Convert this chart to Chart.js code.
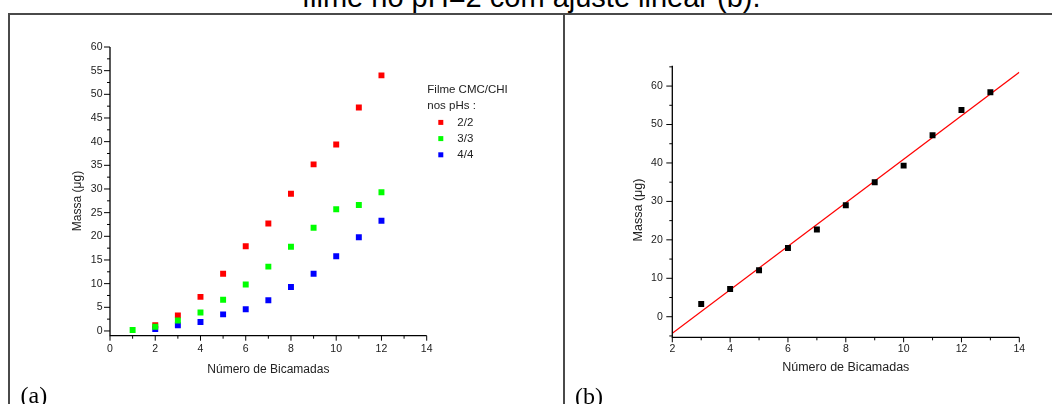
<!DOCTYPE html>
<html>
<head>
<meta charset="utf-8">
<script src="https://cdn.jsdelivr.net/npm/chart.js@4.4.1/dist/chart.umd.min.js"></script>
<style>
  html, body { margin: 0; padding: 0; background: #fff; }
  #pagina { position: relative; width: 1052px; height: 404px; overflow: hidden; font-family: "Liberation Sans", Arial, sans-serif; }
  .linha { position: absolute; background: #4a4a4a; }
  #titulo { position: absolute; left: 302px; top: -17.5px; font-size: 29px; line-height: 29px; white-space: nowrap; color: #000; }
  .rotulo { position: absolute; font-family: "Liberation Serif", "Times New Roman", serif; font-size: 24px; line-height: 24px; color: #000; }
  canvas { position: absolute; top: 0; }
</style>
</head>
<body>
<div id="pagina">
  <div id="titulo">filme no pH=2 com ajuste linear (b).</div>
  <div class="linha" style="left:8px; top:12.5px; width:1044px; height:2px;"></div>
  <div class="linha" style="left:7.5px; top:12.5px; width:2px; height:392px;"></div>
  <div class="linha" style="left:562.5px; top:12.5px; width:2px; height:392px;"></div>
  <canvas id="graficoA" width="563" height="404" style="left:0;"></canvas>
  <canvas id="graficoB" width="489" height="404" style="left:563px;"></canvas>
  <div class="rotulo" style="left:20.5px; top:383px;">(a)</div>
  <div class="rotulo" style="left:575px; top:384px;">(b)</div>
</div>
<script>
// (a) massa depositada por numero de bicamadas, filme CMC/CHI em tres pHs
const bicamadas = [1, 2, 3, 4, 5, 6, 7, 8, 9, 10, 11, 12];
const fases = ['2/2', '3/3', '4/4'];
const massa22 = [null, 1.2, 3.3, 7.2, 12.1, 17.9, 22.7, 29.0, 35.2, 39.4, 47.2, 54.0];
const massa33 = [0.2, 0.9, 2.2, 3.9, 6.6, 9.8, 13.6, 17.8, 21.8, 25.7, 26.6, 29.3];
const massa44 = [null, 0.4, 1.2, 1.9, 3.5, 4.6, 6.5, 9.3, 12.1, 15.8, 19.8, 23.3];

// (b) filme no pH=2 e reta ajustada
const bicamadasB = [3, 4, 5, 6, 7, 8, 9, 10, 11, 12, 13];
const massaB = [3.3, 7.2, 12.1, 17.9, 22.7, 29.0, 35.0, 39.3, 47.2, 53.8, 58.4];
const ajusteX = [2, 14];
const ajusteY = [-4.3, 63.6];

const fonte = '"Liberation Sans", Arial, sans-serif';

function pares(xs, ys) {
  const out = [];
  xs.forEach((x, i) => { if (ys[i] !== null) out.push({ x: x, y: ys[i] }); });
  return out;
}

// eixos no estilo Origin: so esquerdo e inferior, ticks para fora
const eixos = {
  id: 'eixos',
  afterDraw(chart, args, o) {
    const ctx = chart.ctx;
    const { left, right, top, bottom } = chart.chartArea;
    const sx = chart.scales.x, sy = chart.scales.y;
    ctx.save();
    ctx.strokeStyle = '#000';
    ctx.lineWidth = 1.3;
    ctx.beginPath();
    ctx.moveTo(left, top);
    ctx.lineTo(left, bottom);
    ctx.lineTo(right, bottom);
    ctx.stroke();

    ctx.lineWidth = 1;
    ctx.fillStyle = '#1a1a1a';
    ctx.font = o.fonteTicks + 'px ' + fonte;

    ctx.textAlign = 'center';
    ctx.textBaseline = 'middle';
    for (let i = Math.ceil(sx.min / o.xMenor); i * o.xMenor <= sx.max + 1e-9; i++) {
      const v = i * o.xMenor;
      const px = sx.getPixelForValue(v);
      const maior = Math.abs(v / o.xMaior - Math.round(v / o.xMaior)) < 1e-6;
      ctx.beginPath();
      ctx.moveTo(px, bottom);
      ctx.lineTo(px, bottom + (maior ? 5 : 3));
      ctx.stroke();
      if (maior) ctx.fillText(String(Math.round(v)), px, o.xRotuloY);
    }

    ctx.textAlign = 'right';
    for (let i = Math.ceil(sy.min / o.yMenor); i * o.yMenor <= sy.max + 1e-9; i++) {
      const v = i * o.yMenor;
      const py = sy.getPixelForValue(v);
      const maior = Math.abs(v / o.yMaior - Math.round(v / o.yMaior)) < 1e-6;
      ctx.beginPath();
      ctx.moveTo(left, py);
      ctx.lineTo(left - (maior ? 6 : 3), py);
      ctx.stroke();
      if (maior) ctx.fillText(String(Math.round(v)), left - o.yRotuloGap, py);
    }

    ctx.fillStyle = '#222';
    ctx.font = o.fonteTitulo + 'px ' + fonte;
    ctx.textAlign = 'center';
    ctx.fillText(o.tituloX, (left + right) / 2, o.tituloXY);
    ctx.translate(o.tituloYX, o.tituloYY);
    ctx.rotate(-Math.PI / 2);
    ctx.fillText(o.tituloY, 0, 0);
    ctx.restore();
  }
};

// legenda do grafico (a), com cabecalho em duas linhas
const legendaA = {
  id: 'legendaA',
  afterDraw(chart, args, o) {
    const ctx = chart.ctx;
    ctx.save();
    ctx.font = o.fonte + 'px ' + fonte;
    ctx.fillStyle = '#222';
    ctx.textAlign = 'left';
    ctx.textBaseline = 'middle';
    o.cabecalho.forEach((t, i) => ctx.fillText(t, o.x, o.y + i * o.passo));
    chart.data.datasets.slice().sort((a, b) => a.pos - b.pos).forEach((ds, i) => {
      const y = o.y + (i + 2) * o.passo;
      ctx.fillStyle = ds.backgroundColor;
      ctx.fillRect(o.x + 11, y - 2.5, 5, 5);
      ctx.fillStyle = '#222';
      ctx.fillText(ds.label, o.x + 30, y);
    });
    ctx.restore();
  }
};

new Chart(document.getElementById('graficoA'), {
  type: 'scatter',
  data: {
    datasets: [
      { label: fases[1], pos: 1, data: pares(bicamadas, massa33), backgroundColor: '#00ff00', order: 0 },
      { label: fases[0], pos: 0, data: pares(bicamadas, massa22), backgroundColor: '#ff0000', order: 1 },
      { label: fases[2], pos: 2, data: pares(bicamadas, massa44), backgroundColor: '#0000ff', order: 2 }
    ]
  },
  options: {
    responsive: false,
    animation: false,
    devicePixelRatio: 1,
    layout: { padding: { left: 110, right: 136.3, top: 47, bottom: 68.3 } },
    elements: { point: { pointStyle: 'rect', radius: 4.2, borderWidth: 0 } },
    scales: {
      x: { type: 'linear', min: 0, max: 14, display: false },
      y: { type: 'linear', min: -1, max: 60, display: false }
    },
    plugins: {
      legend: { display: false },
      tooltip: { enabled: false },
      eixos: {
        xMaior: 2, xMenor: 1, yMaior: 5, yMenor: 2.5,
        fonteTicks: 10.5, fonteTitulo: 12,
        xRotuloY: 348.7, yRotuloGap: 7.5,
        tituloX: 'Número de Bicamadas', tituloXY: 369.3,
        tituloY: 'Massa (μg)', tituloYX: 77.5, tituloYY: 201
      },
      legendaA: {
        cabecalho: ['Filme CMC/CHI', 'nos pHs :'],
        x: 427.3, y: 90, passo: 16.2, fonte: 11.5
      }
    }
  },
  plugins: [eixos, legendaA]
});

new Chart(document.getElementById('graficoB'), {
  type: 'scatter',
  data: {
    datasets: [
      { label: 'pH 2', data: pares(bicamadasB, massaB), backgroundColor: '#000000', order: 0 },
      {
        type: 'line', label: 'ajuste', data: pares(ajusteX, ajusteY),
        borderColor: '#ff0000', borderWidth: 1.3, pointRadius: 0, fill: false, order: 1
      }
    ]
  },
  options: {
    responsive: false,
    animation: false,
    devicePixelRatio: 1,
    layout: { padding: { left: 109.3, right: 32.7, top: 65.7, bottom: 66.7 } },
    elements: { point: { pointStyle: 'rect', radius: 4.2, borderWidth: 0 } },
    scales: {
      x: { type: 'linear', min: 2, max: 14, display: false },
      y: { type: 'linear', min: -5.35, max: 65.3, display: false }
    },
    plugins: {
      legend: { display: false },
      tooltip: { enabled: false },
      eixos: {
        xMaior: 2, xMenor: 1, yMaior: 10, yMenor: 5,
        fonteTicks: 10.5, fonteTitulo: 12.5,
        xRotuloY: 348.7, yRotuloGap: 9.5,
        tituloX: 'Número de Bicamadas', tituloXY: 367.3,
        tituloY: 'Massa (μg)', tituloYX: 75.3, tituloYY: 210
      }
    }
  },
  plugins: [eixos]
});
</script>
</body>
</html>
